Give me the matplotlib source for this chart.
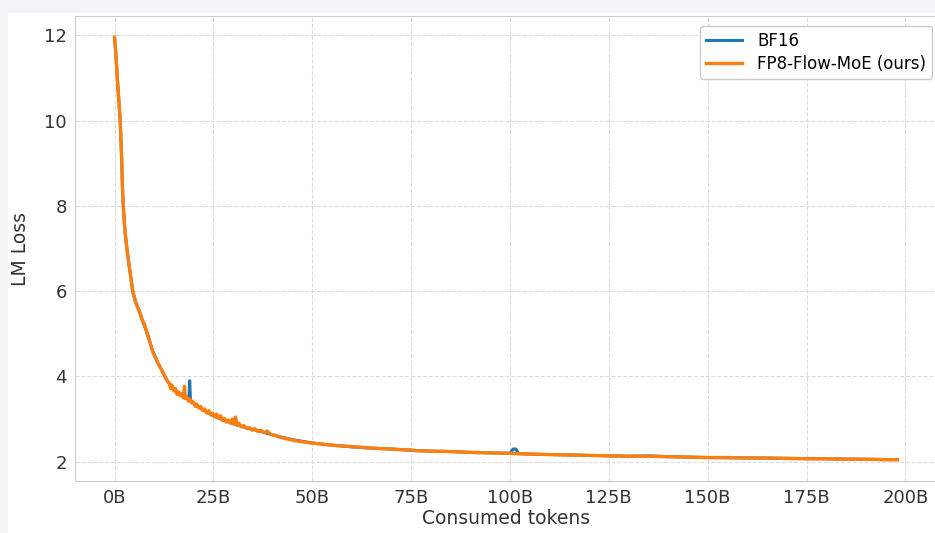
import matplotlib.pyplot as plt
from matplotlib.patches import Rectangle
from matplotlib.ticker import FuncFormatter

# token counts in billions, loss values
bf16_tokens = [0, 0.3, 0.7, 1.1, 1.44, 1.8, 2.0, 2.2, 2.4, 2.7, 3.0, 3.4, 4.0, 4.6, 5.3,
               6.3, 7.1, 8.0, 8.8, 9.6, 10.9, 12.1, 13.3, 14.5, 16.0, 17.5, 18.8, 19.0,
               19.2, 20.5, 22.0, 23.5, 25, 27.5, 30, 32.5, 35, 37.5, 40, 42.5, 45, 50, 55,
               60, 65, 70, 75, 80, 85, 90, 95, 100, 100.8, 101.5, 102.2, 105, 110, 120,
               130, 135, 140, 150, 160, 170, 180, 190, 198]
bf16_loss = [11.95, 11.6, 11.0, 10.45, 10.0, 9.1, 8.45, 8.0, 7.7, 7.35, 7.1, 6.8, 6.4,
             6.0, 5.75, 5.52, 5.3, 5.08, 4.85, 4.6, 4.33, 4.12, 3.9, 3.76, 3.6, 3.52,
             3.46, 3.9, 3.45, 3.33, 3.24, 3.16, 3.08, 2.98, 2.9, 2.82, 2.76, 2.7, 2.63,
             2.57, 2.52, 2.44, 2.39, 2.35, 2.32, 2.3, 2.27, 2.25, 2.24, 2.22, 2.21, 2.2,
             2.3, 2.3, 2.19, 2.18, 2.17, 2.15, 2.13, 2.14, 2.12, 2.1, 2.09, 2.08, 2.07,
             2.06, 2.05]

fp8_tokens = [0.0, 0.3, 0.7, 1.1, 1.44, 1.8, 2.0, 2.2, 2.4, 2.7, 3.0, 3.4, 4.0, 4.6, 5.3,
              6.3, 7.1, 7.6, 8.0, 8.8, 9.6, 10.3, 10.9, 11.5, 12.1, 12.7, 13.3, 13.8,
              14.2, 14.5, 15.0, 15.4, 15.8, 16.2, 16.6, 17.0, 17.4, 17.7, 17.9, 18.3,
              18.7, 19.1, 19.5, 20.0, 20.4, 20.8, 21.3, 21.8, 22.3, 22.8, 23.3, 23.8,
              24.3, 24.8, 25.3, 25.8, 26.3, 26.8, 27.3, 27.8, 28.3, 28.8, 29.3, 29.8,
              30.2, 30.6, 31.0, 31.5, 32.0, 32.7, 33.4, 34.1, 34.8, 35.5, 36.2, 37.0,
              37.8, 38.6, 39.4, 40.5, 41.7, 43, 44.5, 46, 47.5, 49, 51, 53, 55, 58, 61,
              64, 67, 70, 73, 75, 76, 80, 85, 90, 95, 100, 102, 105, 110, 115, 120, 125,
              130, 135, 140, 145, 150, 155, 160, 165, 170, 175, 180, 185, 190, 195, 198]
fp8_loss = [11.95, 11.6, 11.0, 10.45, 10.0, 9.1, 8.45, 8.0, 7.7, 7.35, 7.1, 6.8, 6.4,
            6.0, 5.75, 5.52, 5.3, 5.22, 5.08, 4.85, 4.6, 4.45, 4.33, 4.22, 4.12, 4.0,
            3.9, 3.85, 3.72, 3.8, 3.66, 3.72, 3.58, 3.64, 3.55, 3.6, 3.5, 3.77, 3.48,
            3.52, 3.42, 3.47, 3.38, 3.4, 3.3, 3.35, 3.26, 3.3, 3.2, 3.24, 3.14, 3.2, 3.1,
            3.14, 3.05, 3.12, 3.02, 3.08, 2.97, 3.02, 2.93, 2.98, 2.9, 3.0, 2.88, 3.05,
            2.85, 2.9, 2.82, 2.85, 2.78, 2.8, 2.74, 2.78, 2.71, 2.74, 2.68, 2.72, 2.65,
            2.62, 2.58, 2.55, 2.52, 2.49, 2.47, 2.45, 2.43, 2.41, 2.39, 2.37, 2.35, 2.33,
            2.31, 2.3, 2.28, 2.28, 2.26, 2.25, 2.24, 2.22, 2.21, 2.2, 2.19, 2.18, 2.17,
            2.16, 2.15, 2.14, 2.13, 2.13, 2.12, 2.11, 2.1, 2.1, 2.09, 2.09, 2.08, 2.07,
            2.07, 2.06, 2.06, 2.05, 2.05]

x_ticks = [0, 25, 50, 75, 100, 125, 150, 175, 200]
y_ticks = [2, 4, 6, 8, 10, 12]

plt.rcParams['font.family'] = 'DejaVu Sans'

fig = plt.figure(figsize=(9.35, 5.33), dpi=100, facecolor='#f3f4f6')
# white page area (screenshot has a grey border top/left)
fig.patches.append(Rectangle((8 / 935, 0), 1, (533 - 13) / 533, transform=fig.transFigure,
                             facecolor='white', edgecolor='none', zorder=-10))

ax = fig.add_axes([75 / 935, 52 / 533, 862 / 935, 465 / 533])
ax.plot(bf16_tokens, bf16_loss, color='#1f77b4', lw=2.2, label='BF16')
ax.plot(fp8_tokens, fp8_loss, color='#ff7f0e', lw=2.4, label='FP8-Flow-MoE (ours)')

ax.set_xlim(-10, 208)
ax.set_ylim(1.55, 12.45)
ax.set_xticks(x_ticks)
ax.set_yticks(y_ticks)
ax.xaxis.set_major_formatter(FuncFormatter(lambda v, p: f'{int(v)}B'))
ax.grid(True, linestyle='--', color='#dcdcdc', lw=0.8)
ax.set_axisbelow(True)
for s in ax.spines.values():
    s.set_color('#cccccc')
ax.tick_params(length=0, pad=6, labelcolor='#333333', labelsize=13)
ax.set_xlabel('Consumed tokens', color='#333333', fontsize=13.5, labelpad=1)
ax.set_ylabel('LM Loss', color='#333333', fontsize=13.5, labelpad=10)

ax.legend(loc='upper right', bbox_to_anchor=(932 / 935, (533 - 26) / 533),
          bbox_transform=fig.transFigure, fontsize=12, frameon=True,
          edgecolor='#cccccc', framealpha=1, handlelength=2.2, handletextpad=0.9,
          labelspacing=0.3, borderpad=0.35, borderaxespad=0)

fig.savefig('out.png', dpi=100, facecolor=fig.get_facecolor())
